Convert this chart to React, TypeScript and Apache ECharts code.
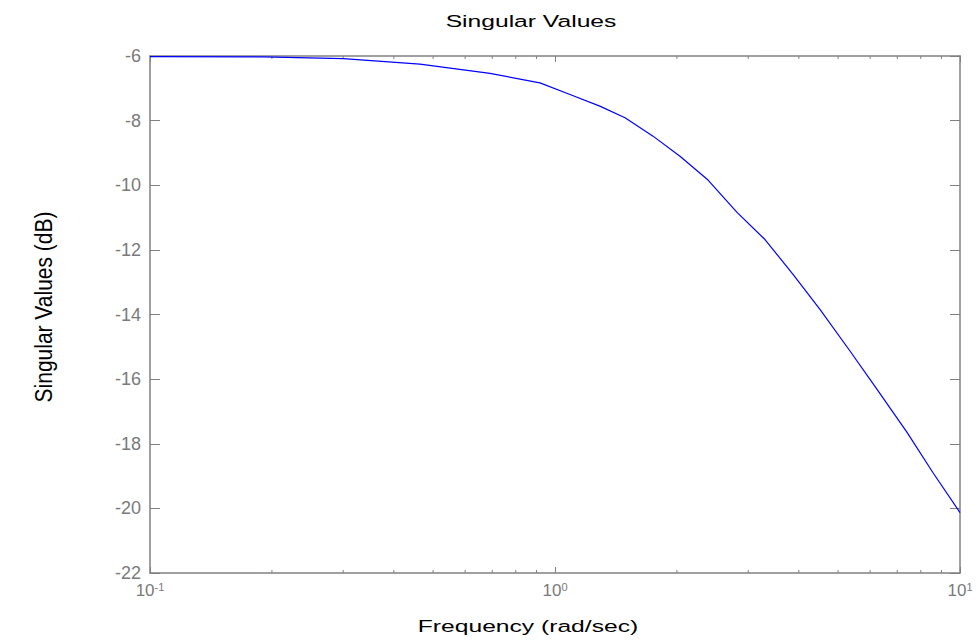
import React, { useEffect, useRef } from "react";
import * as echarts from "echarts";

// Frequencies (rad/sec) and singular values (dB)
const frequencies = [0.1, 0.19, 0.3, 0.464, 0.691, 0.918, 1.089, 1.29, 1.489, 1.746, 2.035, 2.387, 2.815, 3.3, 3.87, 4.51, 5.35, 6.24, 7.4, 8.57, 10];
const singularDb = [-6.02, -6.03, -6.08, -6.25, -6.54, -6.83, -7.19, -7.55, -7.91, -8.48, -9.1, -9.84, -10.84, -11.68, -12.76, -13.84, -15.13, -16.32, -17.65, -18.89, -20.13];
const minorTickFreqs = [0.2, 0.3, 0.4, 0.5, 0.6, 0.7, 0.8, 0.9, 2, 3, 4, 5, 6, 7, 8, 9];
const X_MIN = 0.1;
const X_MAX = 10;
const Y_MIN = -22;
const Y_MAX = -6;
const Y_STEP = 2;

const TITLE = "Singular Values";
const X_NAME = "Frequency (rad/sec)";
const Y_NAME = "Singular Values (dB)";

const AXIS_COLOR = "#808080";
const LABEL_COLOR = "#7a7a7a";
const FONT = '"Liberation Sans", Arial, sans-serif';

export default function App() {
  const ref = useRef<HTMLDivElement>(null);

  useEffect(() => {
    if (!ref.current) return;
    const chart = echarts.init(ref.current, null, { renderer: "svg" });

    const xLabelFormatter = (v: number) => `{b|10}{s|${Math.round(Math.log10(v))}}`;
    const xRich = {
      b: { fontSize: 17, lineHeight: 18, verticalAlign: "bottom", color: LABEL_COLOR, fontFamily: FONT },
      s: { fontSize: 11, lineHeight: 11, verticalAlign: "top", padding: [0, 0, 11, 0], color: LABEL_COLOR, fontFamily: FONT },
    };

    const makeX = (position: string, showLabel: boolean) => ({
      type: "log",
      logBase: 10,
      min: X_MIN,
      max: X_MAX,
      position,
      gridIndex: 0,
      axisLine: { show: true, onZero: false, lineStyle: { color: AXIS_COLOR, width: 1.5 } },
      axisTick: { show: true, inside: true, length: 6, lineStyle: { color: AXIS_COLOR, width: 1 } },
      axisLabel: {
        show: showLabel,
        margin: 8,
        showMinLabel: true,
        showMaxLabel: true,
        formatter: xLabelFormatter,
        rich: xRich,
      },
      splitLine: { show: false },
      minorTick: { show: false },
    });

    const makeY = (position: string, showLabel: boolean) => ({
      type: "value",
      min: Y_MIN,
      max: Y_MAX,
      interval: Y_STEP,
      position,
      gridIndex: 0,
      axisLine: { show: true, onZero: false, lineStyle: { color: AXIS_COLOR, width: 1.5 } },
      axisTick: { show: true, inside: true, length: 10, lineStyle: { color: AXIS_COLOR, width: 1 } },
      axisLabel: {
        show: showLabel,
        margin: 9,
        color: LABEL_COLOR,
        fontSize: 18,
        fontFamily: FONT,
        showMinLabel: true,
        showMaxLabel: true,
      },
      splitLine: { show: false },
    });

    chart.setOption({
      animation: false,
      backgroundColor: "#ffffff",
      grid: { left: 150, right: 17, top: 56, bottom: 67, containLabel: false },
      xAxis: [makeX("bottom", true), makeX("top", false)],
      yAxis: [makeY("left", true), makeY("right", false)],
      graphic: [
        {
          type: "text",
          x: 531,
          y: 21,
          scaleX: 1.45,
          style: {
            text: TITLE,
            font: `17px ${FONT}`,
            fill: "#000000",
            align: "center",
            verticalAlign: "middle",
            textAlign: "center",
            textVerticalAlign: "middle",
          },
        },
        {
          type: "text",
          x: 528,
          y: 626,
          scaleX: 1.45,
          style: {
            text: X_NAME,
            font: `17px ${FONT}`,
            fill: "#000000",
            align: "center",
            verticalAlign: "middle",
            textAlign: "center",
            textVerticalAlign: "middle",
          },
        },
        {
          type: "text",
          x: 44,
          y: 307,
          rotation: Math.PI / 2,
          scaleY: 1.12,
          style: {
            text: Y_NAME,
            font: `21px ${FONT}`,
            fill: "#000000",
            align: "center",
            verticalAlign: "middle",
            textAlign: "center",
            textVerticalAlign: "middle",
          },
        },
      ],
      series: [
        {
          type: "custom",
          coordinateSystem: "cartesian2d",
          xAxisIndex: 0,
          yAxisIndex: 0,
          silent: true,
          clip: false,
          data: minorTickFreqs.map((f) => [f, Y_MIN]),
          renderItem: (params: any, api: any) => {
            const f = api.value(0);
            const b = api.coord([f, Y_MIN]);
            const t = api.coord([f, Y_MAX]);
            const st = { stroke: AXIS_COLOR, lineWidth: 1 };
            return {
              type: "group",
              children: [
                { type: "line", shape: { x1: b[0], y1: b[1], x2: b[0], y2: b[1] - 3 }, style: st },
                { type: "line", shape: { x1: t[0], y1: t[1], x2: t[0], y2: t[1] + 3 }, style: st },
              ],
            };
          },
        },
        {
          type: "line",
          xAxisIndex: 0,
          yAxisIndex: 0,
          showSymbol: false,
          symbol: "none",
          smooth: false,
          data: frequencies.map((f, i) => [f, singularDb[i]]),
          lineStyle: { color: "#0000ff", width: 1.2 },
          itemStyle: { color: "#0000ff" },
          z: 3,
        },
      ],
    });

    return () => chart.dispose();
  }, []);

  return (
    <div
      ref={ref}
      style={{ position: "fixed", left: 0, top: 0, width: 977, height: 640, background: "#fff" }}
    />
  );
}
